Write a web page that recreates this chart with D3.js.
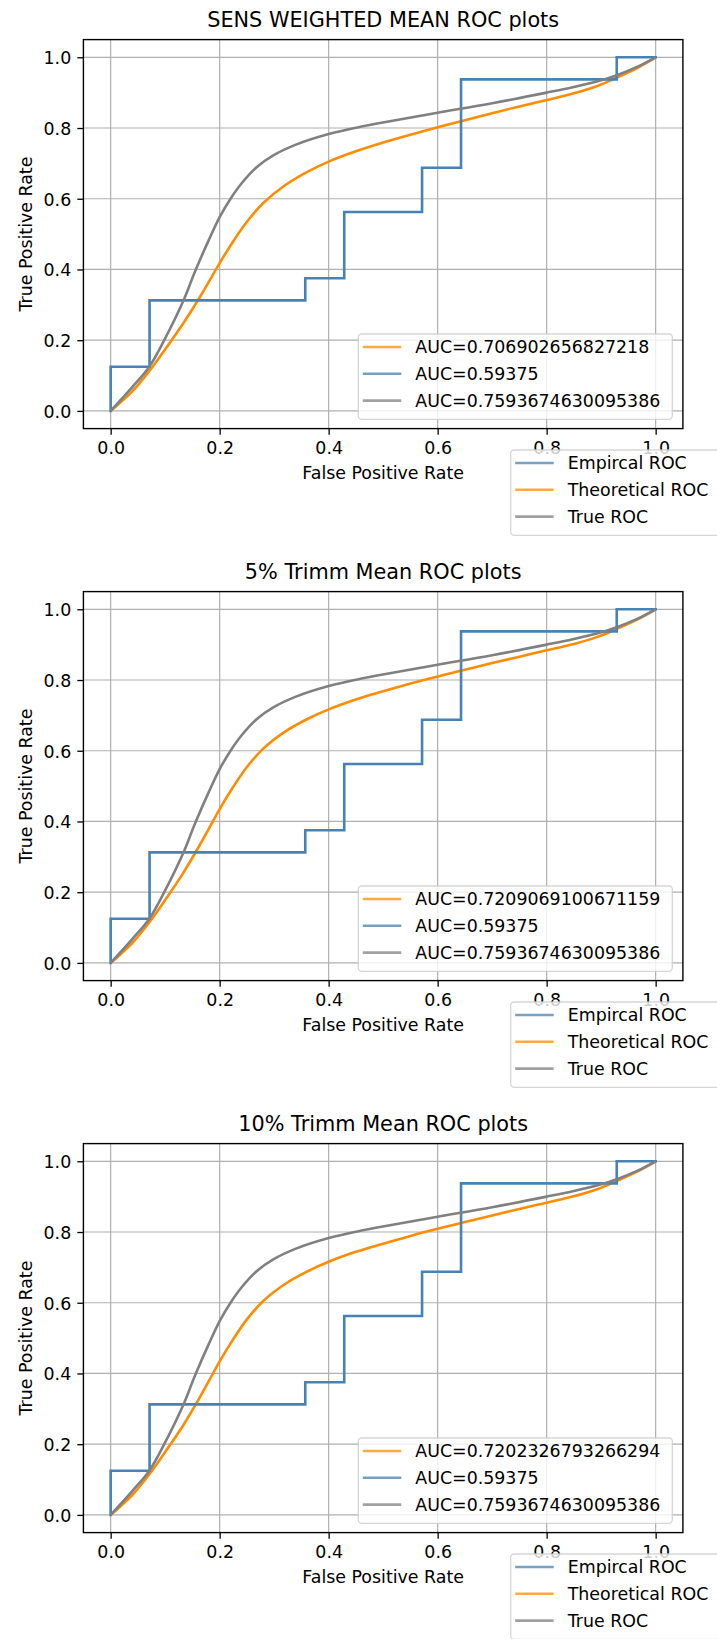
<!DOCTYPE html>
<html>
<head>
<meta charset="utf-8">
<script src="https://cdn.jsdelivr.net/npm/d3@7"></script>
<style>
    body { margin: 0; background: #fff; }
    svg text { font-family: "DejaVu Sans", sans-serif; fill: #000; }
</style>
</head>
<body>
<div id="roc-chart"></div>
<script>
// panel titles and legend texts
const titles = ["SENS WEIGHTED MEAN ROC plots", "5% Trimm Mean ROC plots", "10% Trimm Mean ROC plots"];
const theoAucLabels = ["AUC=0.706902656827218", "AUC=0.7209069100671159", "AUC=0.7202326793266294"];
const empAucLabel = "AUC=0.59375";
const trueAucLabel = "AUC=0.7593674630095386";
const seriesNames = ["Empircal ROC", "Theoretical ROC", "True ROC"];
const axisTicks = [0, 0.2, 0.4, 0.6, 0.8, 1.0];

// empirical ROC (step curve)
const empFpr = [0, 0, 0.0714, 0.0714, 0.3571, 0.3571, 0.4286, 0.4286, 0.5714, 0.5714, 0.6429, 0.6429, 0.9286, 0.9286, 1.0];
const empTpr = [0, 0.125, 0.125, 0.3125, 0.3125, 0.375, 0.375, 0.5625, 0.5625, 0.6875, 0.6875, 0.9375, 0.9375, 1.0, 1.0];

// true ROC, same in all panels
const trueFpr = [0, 0.04, 0.071, 0.10, 0.133, 0.155, 0.18, 0.20, 0.22, 0.24, 0.27, 0.30, 0.34, 0.40, 0.46, 0.52, 0.60, 0.70, 0.80, 0.85, 0.90, 0.93, 0.965, 1.0];
const trueTpr = [0, 0.068, 0.125, 0.205, 0.31, 0.395, 0.483, 0.548, 0.60, 0.643, 0.692, 0.724, 0.753, 0.783, 0.804, 0.821, 0.843, 0.870, 0.900, 0.916, 0.935, 0.950, 0.972, 1.0];

// theoretical ROC per estimator
const theoFpr = [0, 0.04, 0.071, 0.10, 0.133, 0.163, 0.18, 0.20, 0.225, 0.25, 0.28, 0.32, 0.36, 0.40, 0.45, 0.50, 0.55, 0.60, 0.65, 0.70, 0.75, 0.80, 0.85, 0.893, 0.928, 0.965, 1.0];
const theoTprSens = [0, 0.056, 0.113, 0.174, 0.247, 0.32, 0.365, 0.418, 0.48, 0.535, 0.588, 0.638, 0.675, 0.705, 0.734, 0.759, 0.781, 0.802, 0.822, 0.842, 0.861, 0.879, 0.898, 0.919, 0.942, 0.969, 1.0];
const theoTprTrim5 = [0, 0.057, 0.115, 0.178, 0.254, 0.332, 0.379, 0.435, 0.498, 0.554, 0.606, 0.654, 0.689, 0.717, 0.745, 0.768, 0.79, 0.81, 0.829, 0.848, 0.866, 0.884, 0.902, 0.922, 0.944, 0.97, 1.0];
const theoTprTrim10 = [0, 0.057, 0.115, 0.178, 0.253, 0.331, 0.378, 0.434, 0.497, 0.553, 0.605, 0.653, 0.688, 0.716, 0.744, 0.767, 0.789, 0.809, 0.828, 0.847, 0.865, 0.883, 0.901, 0.921, 0.944, 0.97, 1.0];

const COLORS = {emp: "steelblue", theo: "darkorange", tru: "gray"};
const AX_LEFT = 83.4, AX_TOP = 39.6, AX_W = 599.5, AX_H = 389, PANEL_STEP = 552;
const FONT = 17.4;

/**
 * Draws a matplotlib-like legend box
 */
function drawLegend(g, left, top, width, height, entries) {
    let lg = g.append("g").attr("transform", `translate(${left},${top})`);
    lg.append("rect")
        .attr("width", width).attr("height", height).attr("rx", 3.5)
        .attr("fill", "#fff").attr("fill-opacity", 0.8)
        .attr("stroke", "#cccccc").attr("stroke-opacity", 0.8).attr("stroke-width", 1.3);
    entries.forEach((e, i) => {
        let cy = 13 + i * 26.8;
        lg.append("line")
            .attr("x1", 4.5).attr("x2", 43).attr("y1", cy).attr("y2", cy)
            .attr("stroke", e.color).attr("stroke-width", 2.6).attr("stroke-opacity", 0.75);
        lg.append("text")
            .attr("x", 57).attr("y", cy).attr("dy", "0.36em")
            .attr("font-size", FONT)
            .text(e.label);
    });
}

class RocPanel {

    constructor(svg, idx, theoTpr) {
        this.svg = svg;
        this.idx = idx;
        this.theoTpr = theoTpr;
        this.top = AX_TOP + idx * PANEL_STEP;
        this.x = d3.scaleLinear().domain([-0.05, 1.05]).range([0, AX_W]);
        this.y = d3.scaleLinear().domain([-0.05, 1.05]).range([AX_H, 0]);
    }

    draw() {
        let x = this.x, y = this.y;
        let g = this.svg.append("g").attr("transform", `translate(${AX_LEFT},${this.top})`);

        // grid
        g.append("g").selectAll("line").data(axisTicks).enter().append("line")
            .attr("x1", d => x(d)).attr("x2", d => x(d))
            .attr("y1", 0).attr("y2", AX_H)
            .attr("stroke", "#b0b0b0").attr("stroke-width", 1.2);
        g.append("g").selectAll("line").data(axisTicks).enter().append("line")
            .attr("y1", d => y(d)).attr("y2", d => y(d))
            .attr("x1", 0).attr("x2", AX_W)
            .attr("stroke", "#b0b0b0").attr("stroke-width", 1.2);

        // curves: theoretical, empirical, true
        let smooth = d3.line().x(d => x(d[0])).y(d => y(d[1])).curve(d3.curveCatmullRom.alpha(0.5));
        let step = d3.line().x(d => x(d[0])).y(d => y(d[1]));

        g.append("path").datum(d3.zip(theoFpr, this.theoTpr))
            .attr("d", smooth).attr("fill", "none")
            .attr("stroke", COLORS.theo).attr("stroke-width", 2.6);
        g.append("path").datum(d3.zip(empFpr, empTpr))
            .attr("d", step).attr("fill", "none")
            .attr("stroke", COLORS.emp).attr("stroke-width", 2.6)
            .attr("stroke-linejoin", "miter").attr("stroke-linecap", "square");
        g.append("path").datum(d3.zip(trueFpr, trueTpr))
            .attr("d", smooth).attr("fill", "none")
            .attr("stroke", COLORS.tru).attr("stroke-width", 2.6);

        // frame
        g.append("rect").attr("width", AX_W).attr("height", AX_H)
            .attr("fill", "none").attr("stroke", "#000").attr("stroke-width", 1.4);

        // axes
        let xAxis = g.append("g").attr("transform", `translate(0,${AX_H})`)
            .call(d3.axisBottom(x).tickValues(axisTicks).tickFormat(d3.format(".1f")).tickSize(6.1).tickSizeOuter(0));
        let yAxis = g.append("g")
            .call(d3.axisLeft(y).tickValues(axisTicks).tickFormat(d3.format(".1f")).tickSize(6.1).tickSizeOuter(0));
        [xAxis, yAxis].forEach(a => {
            a.attr("font-size", FONT).attr("font-family", null);
            a.select(".domain").remove();
            a.selectAll(".tick line").attr("stroke", "#000").attr("stroke-width", 1.3);
        });
        xAxis.selectAll(".tick text").attr("y", 25.5).attr("dy", null);
        yAxis.selectAll(".tick text").attr("x", -12.2).attr("dy", "0.36em");

        // labels
        g.append("text")
            .attr("x", AX_W / 2).attr("y", -12.5)
            .attr("text-anchor", "middle").attr("font-size", 20.8)
            .text(titles[this.idx]);
        g.append("text")
            .attr("x", AX_W / 2).attr("y", AX_H + 50.7)
            .attr("text-anchor", "middle").attr("font-size", FONT)
            .text("False Positive Rate");
        g.append("text")
            .attr("transform", `translate(${31.5 - AX_LEFT},${AX_H / 2}) rotate(-90)`)
            .attr("text-anchor", "middle").attr("font-size", FONT)
            .text("True Positive Rate");

        // inner legend (AUC values)
        drawLegend(g, 274.9, 294.4, 314, 85.3, [
            {color: COLORS.theo, label: theoAucLabels[this.idx]},
            {color: COLORS.emp, label: empAucLabel},
            {color: COLORS.tru, label: trueAucLabel}
        ]);
        // outer legend (series names)
        drawLegend(g, 427.3, AX_H + 21.4, 300, 85.3, [
            {color: COLORS.emp, label: seriesNames[0]},
            {color: COLORS.theo, label: seriesNames[1]},
            {color: COLORS.tru, label: seriesNames[2]}
        ]);
    }
}

let svg = d3.select("#roc-chart").append("svg")
    .attr("width", 717).attr("height", 1639)
    .style("display", "block").style("background", "#fff");

[theoTprSens, theoTprTrim5, theoTprTrim10].forEach((tpr, i) => {
    new RocPanel(svg, i, tpr).draw();
});
</script>
</body>
</html>
